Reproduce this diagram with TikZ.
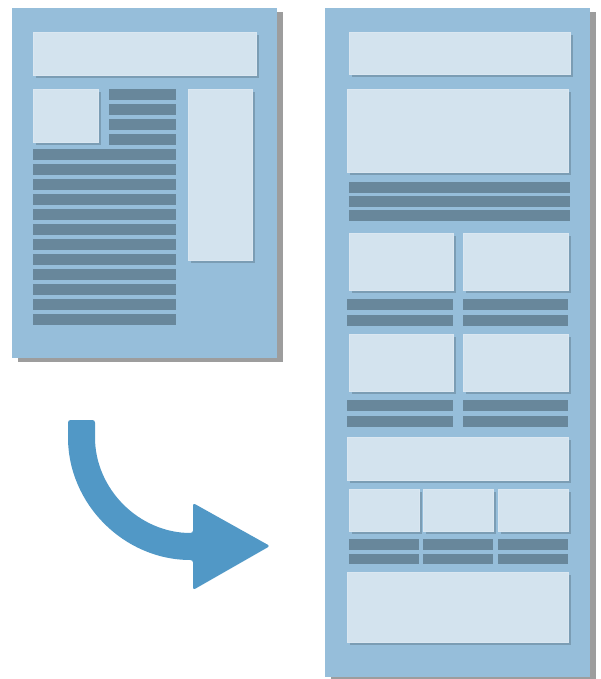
\documentclass[tikz,border=0pt]{standalone}
\usepackage{tikz}
\usetikzlibrary{shadows}
\usepackage{xcolor}
\definecolor{pagFondo}{HTML}{96BEDA}
\definecolor{pagCaja}{HTML}{D3E3EE}
\definecolor{pagLinea}{HTML}{68879B}
\definecolor{pagFlecha}{HTML}{5198C6}
\definecolor{pagSombra}{HTML}{3C3C3C}

\tikzset{
  hoja/.style={fill=pagFondo,
    drop shadow={shadow xshift=6pt, shadow yshift=-4pt, opacity=0.5, fill=pagSombra}},
  caja/.style={fill=pagCaja, draw=pagCaja!85!white, line width=0.6pt,
    drop shadow={shadow xshift=3pt, shadow yshift=-3pt, opacity=0.3, fill=pagLinea!60!black}},
  linea/.style={fill=pagLinea},
}

\begin{document}
\begin{tikzpicture}[x=1pt, y=-1pt]
        \useasboundingbox (0,0) rectangle (601,679);
        % Hoja original (izquierda)
        \fill[hoja] (12,8) rectangle (277,358);
        \fill[caja] (33,32) rectangle (256,75);
        \fill[caja] (33,89) rectangle (98,142);
        \fill[caja] (188,89) rectangle (252,260);
        % Lineas de texto: 4 cortas junto a la imagen, 12 largas debajo
        \foreach \i in {0,...,3} {
          \fill[linea] (109,89+15*\i) rectangle (176,100+15*\i);
        }
        \foreach \i in {4,...,15} {
          \fill[linea] (33,89+15*\i) rectangle (176,100+15*\i);
        }
        % Flecha curva
        \fill[pagFlecha, rounded corners=2.5pt]
          (68,420) -- (68,435)
          .. controls (68,504) and (124,560) .. (193,560)
          -- (193,590) -- (270,546) -- (193,503) -- (193,533)
          .. controls (139,533) and (95,489) .. (95,435)
          -- (95,420) -- cycle;
        % Hoja adaptada (derecha)
        \fill[hoja] (325,8) rectangle (590,677);
        \fill[caja] (349,32) rectangle (570,74);
        \fill[caja] (347,89) rectangle (568,172);
        \foreach \y in {182,196,210} {
          \fill[linea] (349,\y) rectangle (570,\y+11);
        }
        % Dos filas de dos columnas
        \foreach \y in {233,334} {
          \fill[caja] (349,\y) rectangle (453,\y+57);
          \fill[caja] (463,\y) rectangle (568,\y+57);
          \foreach \dy in {66,82} {
            \fill[linea] (347,\y+\dy) rectangle (453,\y+\dy+11);
            \fill[linea] (463,\y+\dy) rectangle (568,\y+\dy+11);
          }
        }
        \fill[caja] (347,437) rectangle (568,480);
        % Tres columnas
        \foreach \xa/\xb in {349/419, 423/493, 498/568} {
          \fill[caja] (\xa,489) rectangle (\xb,531);
          \fill[linea] (\xa,539) rectangle (\xb,550);
          \fill[linea] (\xa,554) rectangle (\xb,564);
        }
        \fill[caja] (347,572) rectangle (568,642);
      \end{tikzpicture}
\end{document}
